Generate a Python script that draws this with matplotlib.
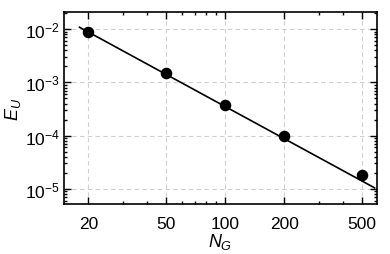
import numpy as np
import matplotlib
matplotlib.use("Agg")
import matplotlib.pyplot as plt
from matplotlib.ticker import FixedLocator, FixedFormatter, LogLocator, NullFormatter

plt.rcParams['font.family'] = ['Liberation Sans', 'DejaVu Sans']
plt.rcParams['mathtext.fontset'] = 'custom'
plt.rcParams['mathtext.rm'] = 'Liberation Sans'
plt.rcParams['mathtext.it'] = 'Liberation Sans:italic'
plt.rcParams['mathtext.bf'] = 'Liberation Sans:bold'

N_G = [20, 50, 100, 200, 500]
E_U = [8.8e-3, 1.5e-3, 3.8e-4, 9.8e-5, 1.86e-5]
line_N = [18, 580]
slope = -2.0
xtick_vals = [20, 50, 100, 200, 500]
xtick_labels = ["20", "50", "100", "200", "500"]

fig = plt.figure(figsize=(3.9, 2.55), dpi=100)
ax = fig.add_axes([64/390, 50/255, 313/390, 192/255])

ln = np.array(line_N, dtype=float)
ax.plot(ln, E_U[0] * (ln / N_G[0]) ** slope, color='black', lw=1.2, zorder=3)
ax.plot(N_G, E_U, 'o', color='black', ms=7.3, zorder=4)

ax.set_xscale('log')
ax.set_yscale('log')
ax.set_xlim(15, 597)
ax.set_ylim(5.2e-6, 2.1e-2)

ax.xaxis.set_major_locator(FixedLocator(xtick_vals))
ax.xaxis.set_major_formatter(FixedFormatter(xtick_labels))
ax.xaxis.set_minor_locator(LogLocator(base=10, subs=np.arange(2, 10)))
ax.xaxis.set_minor_formatter(NullFormatter())
ax.yaxis.set_major_locator(LogLocator(base=10, numticks=20))
ax.yaxis.set_minor_locator(LogLocator(base=10, subs=np.arange(2, 10), numticks=20))
ax.yaxis.set_minor_formatter(NullFormatter())

ax.tick_params(which='both', direction='in', top=True, right=True, width=1.0)
ax.tick_params(which='major', length=5)
ax.tick_params(axis='x', which='major', pad=9, labelsize=12.5)
ax.tick_params(axis='y', which='major', pad=3, labelsize=12.5)
ax.tick_params(which='minor', length=2.5)
for s in ax.spines.values():
    s.set_linewidth(1.2)

ax.grid(True, which='major', ls=(0, (4, 3)), color='#d0d0d0', lw=0.8)
ax.set_axisbelow(True)

ax.set_xlabel(r'$N_G$', fontsize=13, labelpad=0)
ax.set_ylabel(r'$E_U$', fontsize=13, labelpad=1)

fig.savefig('out.png', dpi=100)
